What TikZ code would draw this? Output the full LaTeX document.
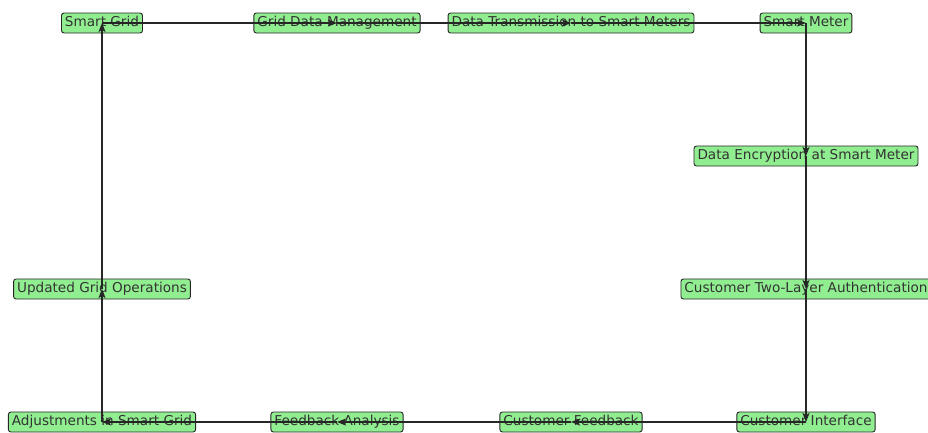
\documentclass[tikz,border=0pt]{standalone}
\usepackage{fontspec}
\setmainfont{DejaVu Sans}
\usetikzlibrary{arrows.meta}
\definecolor{boxgreen}{RGB}{144,238,144}
\begin{document}
\begin{tikzpicture}[x=1pt,y=-1pt,
    box/.style={draw=black!85, fill=boxgreen, rounded corners=2.5pt, line width=0.9pt,
      inner xsep=3.5pt, inner ysep=0pt, minimum height=20pt, text height=10pt, text depth=3pt,
      text=black!80, font=\fontsize{13.6}{15}\selectfont},
    flow/.style={draw=black!85, line width=1.1pt, -{Stealth[length=9pt,width=7pt,inset=2pt]}}]
    \useasboundingbox (0,0) rectangle (928,432);
    \clip (0,0) rectangle (928,432);
    % Top row
    \node[box] (sg) at (102,23) {Smart Grid};
    \node[box] (gdm) at (337,23) {Grid Data Management};
    \node[box] (dt) at (571,23) {Data Transmission to Smart Meters};
    \node[box] (sm) at (806,23) {Smart Meter};
    % Right column
    \node[box] (de) at (806,156) {Data Encryption at Smart Meter};
    \node[box] (ca) at (806,289) {Customer Two-Layer Authentication};
    % Bottom row
    \node[box] (ci) at (806,422) {Customer Interface};
    \node[box] (cf) at (571,422) {Customer Feedback};
    \node[box] (fa) at (337,422) {Feedback Analysis};
    \node[box] (adj) at (102,422) {Adjustments in Smart Grid};
    % Left column
    \node[box] (ugo) at (102,289) {Updated Grid Operations};

    % Flow between steps
    \foreach \a/\b in {sg/gdm, gdm/dt, dt/sm, sm/de, de/ca, ca/ci, ci/cf, cf/fa, fa/adj, adj/ugo, ugo/sg}
      \draw[flow] (\a.center) -- (\b.center);
\end{tikzpicture}
\end{document}
